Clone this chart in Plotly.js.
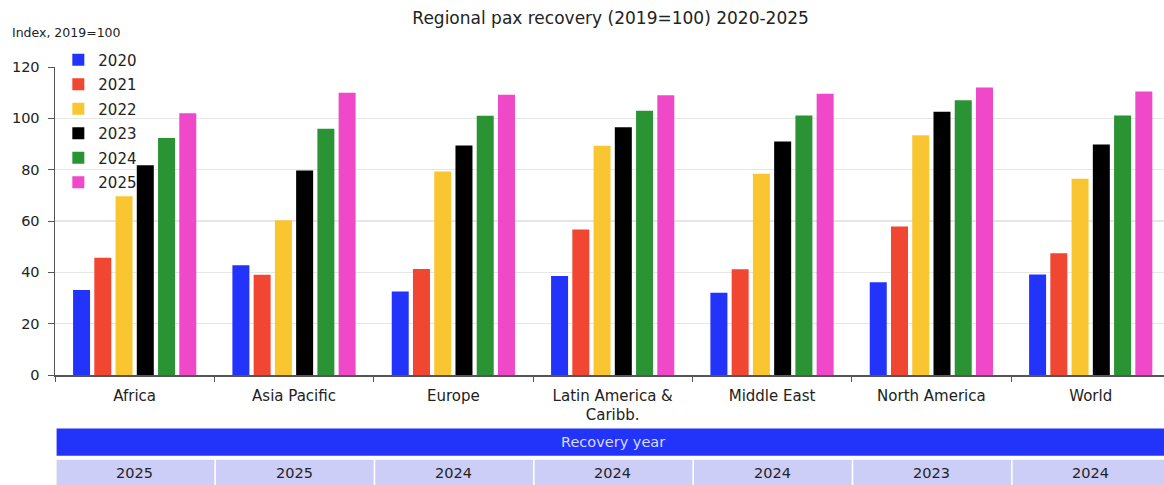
<!DOCTYPE html>
<html>
<head>
<meta charset="utf-8">
<script src="https://cdn.plot.ly/plotly-3.0.1.min.js"></script>
<style>
html,body{margin:0;padding:0;background:#fff;}
#chart{width:1164px;height:485px;}
</style>
</head>
<body>
<div id="chart"></div>
<script>
var regions = ["Africa", "Asia Pacific", "Europe", "Latin America &<br>Caribb.", "Middle East", "North America", "World"];
var years = ["2020", "2021", "2022", "2023", "2024", "2025"];
var v2020 = [33.1, 42.8, 32.5, 38.6, 32.0, 36.1, 39.2];
var v2021 = [45.7, 39.1, 41.3, 56.7, 41.2, 57.9, 47.4];
var v2022 = [69.6, 60.3, 79.3, 89.3, 78.4, 93.4, 76.5];
var v2023 = [81.7, 79.7, 89.4, 96.5, 91.0, 102.6, 89.8];
var v2024 = [92.3, 95.9, 101.0, 103.0, 101.1, 107.0, 101.1];
var v2025 = [102.0, 110.0, 109.2, 109.0, 109.6, 112.0, 110.5];
var recoveryYear = ["2025", "2025", "2024", "2024", "2024", "2023", "2024"];
var yTicks = [0, 20, 40, 60, 80, 100, 120];

var series = [v2020, v2021, v2022, v2023, v2024, v2025];
var colors = ["#2233FA", "#F04632", "#F9C632", "#000000", "#2A9434", "#EF48C8"];

var FONT = "'DejaVu Sans', Arial, sans-serif";

var traces = series.map(function (vals, i) {
  return {
    type: "bar",
    name: years[i],
    x: regions,
    y: vals,
    legendgroup: "g" + i,
    marker: { color: colors[i], line: { width: 0 } },
    hoverinfo: "x+y+name"
  };
});

var shapes = [];
var annotations = [];

// Recovery year header band
shapes.push({
  type: "rect", xref: "x", yref: "paper",
  x0: -0.49, x1: 6.6, y0: -0.262, y1: -0.174,
  fillcolor: "#2233FA", line: { width: 0 }, layer: "above"
});
annotations.push({
  xref: "paper", yref: "paper", x: 0.503, y: -0.218,
  text: "Recovery year", showarrow: false,
  font: { family: FONT, size: 14.5, color: "#D8DAFF" },
  xanchor: "center", yanchor: "middle"
});

// Recovery year cells
recoveryYear.forEach(function (yr, i) {
  shapes.push({
    type: "rect", xref: "x", yref: "paper",
    x0: i - 0.49, x1: (i === recoveryYear.length - 1 ? i + 0.7 : i + 0.5),
    y0: -0.36, y1: -0.275,
    fillcolor: "#CDCEF8", line: { width: 0 }, layer: "above"
  });
  annotations.push({
    xref: "x", yref: "paper", x: regions[i], y: -0.318,
    text: yr, showarrow: false,
    font: { family: FONT, size: 14.5, color: "#222222" },
    xanchor: "center", yanchor: "middle"
  });
});

annotations.push({
  xref: "paper", yref: "paper", x: -0.041, y: 1.113,
  text: "Index, 2019=100", showarrow: false,
  font: { family: FONT, size: 12.5, color: "#222222" },
  xanchor: "left", yanchor: "middle"
});

var layout = {
  width: 1164, height: 485,
  margin: { l: 55, r: 0, t: 67, b: 110 },
  paper_bgcolor: "#ffffff", plot_bgcolor: "#ffffff",
  font: { family: FONT, size: 14, color: "#222222" },
  title: {
    text: "Regional pax recovery (2019=100) 2020-2025",
    x: 0.501, xref: "paper", xanchor: "center",
    y: 0.963, yref: "container", yanchor: "middle",
    font: { family: FONT, size: 17, color: "#222222" }
  },
  barmode: "group",
  bargap: 0.2,
  bargroupgap: 0.2,
  showlegend: true,
  legend: {
    x: 0.003, y: 1.076, xanchor: "left", yanchor: "top",
    bgcolor: "rgba(0,0,0,0)",
    font: { family: FONT, size: 15, color: "#222222" },
    traceorder: "grouped", tracegroupgap: 2,
    itemwidth: 30
  },
  xaxis: {
    type: "category",
    range: [-0.5, 6.46],
    showgrid: false,
    showline: true, linecolor: "#555555", linewidth: 1.5,
    ticks: "outside", tickson: "boundaries", ticklen: 5, tickcolor: "#555555",
    ticklabelstandoff: 6,
    tickfont: { family: FONT, size: 15, color: "#222222" },
    fixedrange: true
  },
  yaxis: {
    range: [0, 120],
    tickvals: yTicks,
    showgrid: true, gridcolor: "#E6E6E6", gridwidth: 1.5,
    zeroline: false,
    showline: true, linecolor: "#555555", linewidth: 1.5,
    ticks: "outside", ticklen: 6, tickcolor: "#555555",
    ticklabelstandoff: 5,
    tickfont: { family: FONT, size: 14.5, color: "#222222" },
    fixedrange: true
  },
  shapes: shapes,
  annotations: annotations
};

Plotly.newPlot("chart", traces, layout, { displayModeBar: false, staticPlot: true });
</script>
</body>
</html>
